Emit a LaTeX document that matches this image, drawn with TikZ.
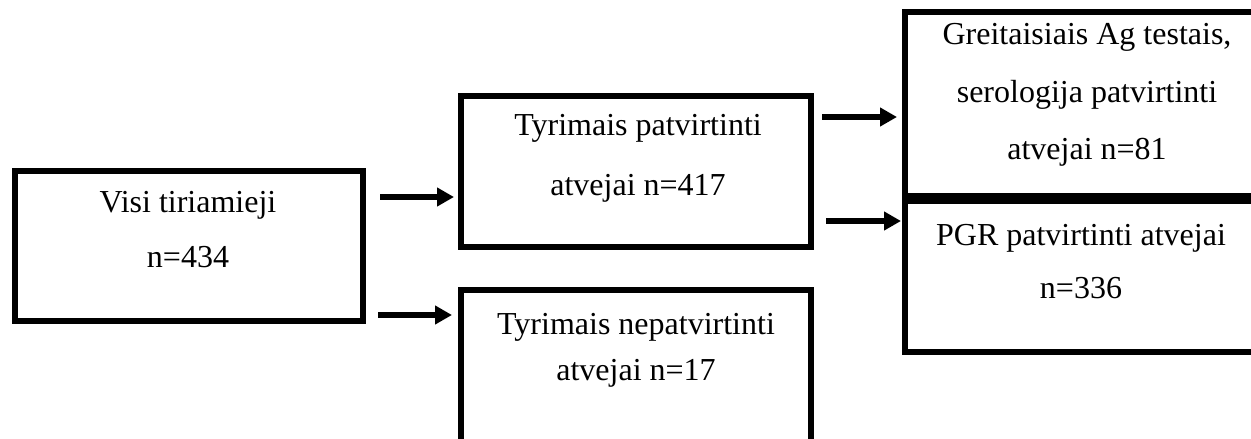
\documentclass[tikz,border=0pt]{standalone}
\usepackage{fontspec}
\setmainfont{Liberation Serif}
\usetikzlibrary{arrows.meta}
\tikzset{
  box/.style={draw=black, line width=6pt, rectangle, outer sep=0pt, inner sep=0pt},
  arr/.style={line width=5.5pt, -{Triangle[length=17pt,width=18pt]}},
  txt/.style={anchor=base, inner sep=0pt, font=\fontsize{32}{38}\selectfont}
}
\begin{document}
\begin{tikzpicture}[x=1pt,y=-1pt]
\useasboundingbox (0,0) rectangle (1251,439);
\fill[white] (0,0) rectangle (1251,439);
\clip (0,0) rectangle (1251,439);
% boxes
\node[box, minimum width=348pt, minimum height=150pt] (b1) at (189,246) {};
\node[box, minimum width=350pt, minimum height=151pt] (b2) at (636,171.5) {};
\node[box, minimum width=350pt, minimum height=180pt] (b3) at (636,380) {};
\node[box, minimum width=365pt, minimum height=184pt] (b4) at (1087.5,104) {};
\node[box, minimum width=365pt, minimum height=151pt] (b5) at (1087.5,276.5) {};
% texts
\node[txt] (t1a) at (188,212) {Visi tiriamieji};
\node[txt] (t1b) at (188,267) {n=434};
\node[txt] (t2a) at (638,135) {Tyrimais patvirtinti};
\node[txt] (t2b) at (638,195) {atvejai n=417};
\node[txt] (t3a) at (636,334) {Tyrimais nepatvirtinti};
\node[txt] (t3b) at (636,380) {atvejai n=17};
\node[txt] (t4a) at (1087,45) {Greitaisiais Ag testais,};
\node[txt] (t4b) at (1087,102) {serologija patvirtinti};
\node[txt] (t4c) at (1087,159) {atvejai n=81};
\node[txt] (t5a) at (1081,245) {PGR patvirtinti atvejai};
\node[txt] (t5b) at (1081,298) {n=336};
% arrows
\draw[arr] ([xshift=17pt]b1.east |- 0,197) -- ([xshift=-7pt]b2.west |- 0,197);
\draw[arr] ([xshift=15pt]b1.east |- 0,315) -- ([xshift=-9pt]b3.west |- 0,315);
\draw[arr] ([xshift=11pt]b2.east |- 0,117) -- ([xshift=-8pt]b4.west |- 0,117);
\draw[arr] ([xshift=15pt]b2.east |- 0,221) -- ([xshift=-4pt]b5.west |- 0,221);
\end{tikzpicture}
\end{document}
